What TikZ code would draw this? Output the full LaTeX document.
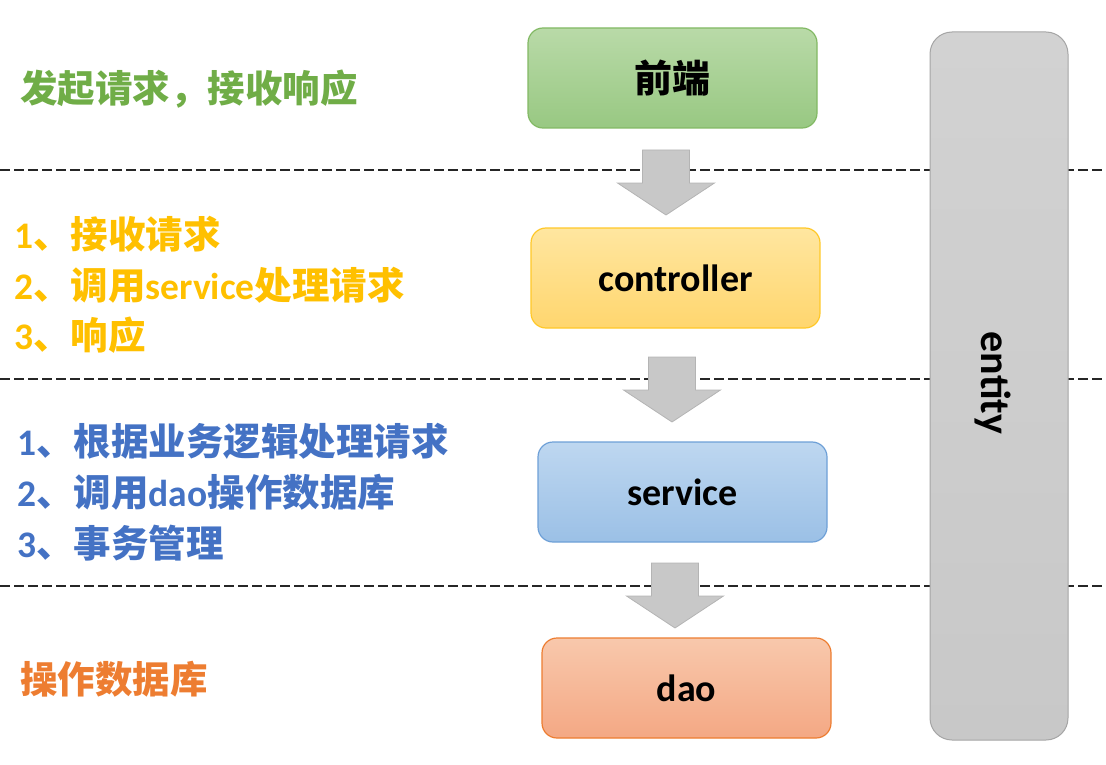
\documentclass[tikz,border=0pt]{standalone}
\usepackage{fontspec}
\setmainfont{Carlito}
\newfontfamily\cjk{Noto Sans CJK SC}
\newcommand\zh[1]{{\cjk #1}}
\definecolor{gTop}{RGB}{185,218,168}
\definecolor{gBot}{RGB}{152,200,130}
\definecolor{gLine}{RGB}{130,185,100}
\definecolor{yTop}{RGB}{255,230,160}
\definecolor{yBot}{RGB}{255,214,110}
\definecolor{yLine}{RGB}{255,200,40}
\definecolor{bTop}{RGB}{190,215,240}
\definecolor{bBot}{RGB}{155,192,230}
\definecolor{bLine}{RGB}{110,160,215}
\definecolor{oTop}{RGB}{248,200,172}
\definecolor{oBot}{RGB}{244,168,132}
\definecolor{oLine}{RGB}{237,125,49}
\definecolor{eTop}{RGB}{210,210,210}
\definecolor{eBot}{RGB}{200,200,200}
\definecolor{eLine}{RGB}{165,165,165}
\definecolor{arrFill}{RGB}{200,200,200}
\definecolor{arrLine}{RGB}{180,180,180}
\definecolor{txtG}{RGB}{112,173,71}
\definecolor{txtY}{RGB}{255,192,0}
\definecolor{txtB}{RGB}{68,114,196}
\definecolor{txtO}{RGB}{237,125,49}
\tikzset{
  layerbox/.style={rounded corners=15pt, minimum width=289pt, minimum height=100pt,
    line width=1.2pt, font=\bfseries\fontsize{38}{42}\selectfont, text=black},
  desc/.style={anchor=base west, font=\bfseries\fontsize{37.5}{42}\selectfont, inner sep=0pt},
  sep/.style={line width=2.6pt, dash pattern=on 10pt off 4pt, black!85},
  blockarrow/.style={fill=arrFill, draw=arrLine, line width=0.8pt}
}
\begin{document}
\begin{tikzpicture}[x=1pt,y=-1pt]
\useasboundingbox (0,0) rectangle (1106,765);
% separators
\coordinate (s1a) at (0,170); \coordinate (s1b) at (1106,170);
\coordinate (s2a) at (0,379); \coordinate (s2b) at (1106,379);
\coordinate (s3a) at (0,586); \coordinate (s3b) at (1106,586);
\draw[sep] (s1a) -- (s1b);
\draw[sep] (s2a) -- (s2b);
\draw[sep] (s3a) -- (s3b);
% boxes
\node[layerbox, draw=gLine, top color=gTop, bottom color=gBot] (fe) at (672.5,78) {\zh{前端}};
\node[layerbox, draw=yLine, top color=yTop, bottom color=yBot] (ctl) at (675.5,278) {controller};
\node[layerbox, draw=bLine, top color=bTop, bottom color=bBot] (svc) at (682.5,492) {service};
\node[layerbox, draw=oLine, top color=oTop, bottom color=oBot] (dao) at (686.5,688) {dao};
% entity
\node[rounded corners=22pt, minimum width=138pt, minimum height=708pt, line width=1pt,
  draw=eLine, top color=eTop, bottom color=eBot] (ent) at (999,386) {};
\node[rotate=-90, font=\bfseries\fontsize{42}{46}\selectfont] (entl) at (993,383) {entity};
% block arrows
\newcommand\blockarr[2]{%
  \draw[blockarrow] ([xshift=-23.5pt]#1) -- ([xshift=23.5pt]#1) -- ([xshift=23.5pt,yshift=-33pt]#1)
    -- ([xshift=48.5pt,yshift=-33pt]#1) -- ([yshift=-65pt]#1) -- ([xshift=-48.5pt,yshift=-33pt]#1)
    -- ([xshift=-23.5pt,yshift=-33pt]#1) -- cycle;}
\coordinate (a1) at (666,150);
\coordinate (a2) at (672,357);
\coordinate (a3) at (675,563);
\blockarr{a1}{}
\blockarr{a2}{}
\blockarr{a3}{}
% descriptions
\node[desc, text=txtG] (d0) at (20,103) {\zh{发起请求，接收响应}};
\node[desc, text=txtY] (d1) at (14,248) {1\zh{、接收请求}};
\node[desc, text=txtY] (d2) at (14,299) {2\zh{、调用}service\zh{处理请求}};
\node[desc, text=txtY] (d3) at (14,349) {3\zh{、响应}};
\node[desc, text=txtB] (d4) at (17,455) {1\zh{、根据业务逻辑处理请求}};
\node[desc, text=txtB] (d5) at (17,506) {2\zh{、调用}dao\zh{操作数据库}};
\node[desc, text=txtB] (d6) at (17,557) {3\zh{、事务管理}};
\node[desc, text=txtO] (d7) at (20,693) {\zh{操作数据库}};
\end{tikzpicture}
\end{document}
